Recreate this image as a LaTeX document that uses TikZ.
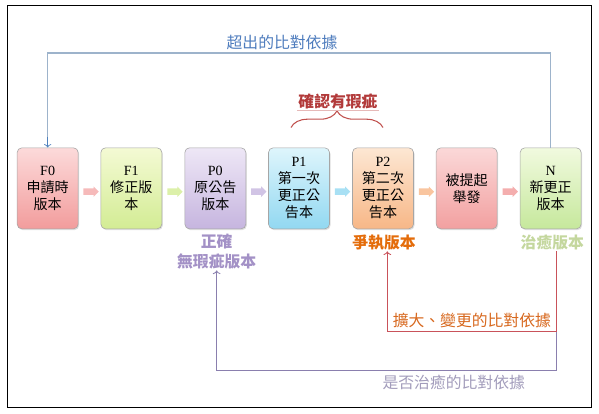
\documentclass[tikz,border=0pt]{standalone}
\usepackage{fontspec}
\setmainfont{Liberation Serif}
\newfontfamily\cjk{Noto Sans CJK TC}
\usetikzlibrary{positioning, shapes.arrows, arrows.meta, calc, decorations.pathreplacing, shadows}
\definecolor{boxline}{HTML}{A6A6A6}
\definecolor{fzerotop}{HTML}{FCDADA}
\definecolor{fzerobot}{HTML}{F29C9C}
\definecolor{fonetop}{HTML}{F4FAD4}
\definecolor{fonebot}{HTML}{D3EC94}
\definecolor{pzerotop}{HTML}{EEE7F6}
\definecolor{pzerobot}{HTML}{C6B5DF}
\definecolor{ponetop}{HTML}{DEF5FC}
\definecolor{ponebot}{HTML}{92D8F1}
\definecolor{ptwotop}{HTML}{FDE7D3}
\definecolor{ptwobot}{HTML}{F7B787}
\definecolor{reptop}{HTML}{FBD8D8}
\definecolor{repbot}{HTML}{F2A0A0}
\definecolor{newtop}{HTML}{F1FADF}
\definecolor{newbot}{HTML}{C6E89C}
\definecolor{topblue}{HTML}{9DB3CB}
\definecolor{txtblue}{HTML}{4E7CBD}
\definecolor{arrblue}{HTML}{4F81BD}
\definecolor{flawred}{HTML}{C0504D}
\definecolor{flawtxt}{HTML}{B23A3A}
\definecolor{redln}{HTML}{C9525A}
\definecolor{redtxt}{HTML}{D7681E}
\definecolor{disptxt}{HTML}{E46C0A}
\definecolor{purln}{HTML}{8A7FAE}
\definecolor{purtxt}{HTML}{A29CBB}
\definecolor{correcttxt}{HTML}{A391C6}
\definecolor{curetxt}{HTML}{C4D79E}

\begin{document}
\begin{tikzpicture}[
    verbox/.style={draw=boxline, line width=0.5pt, rounded corners=4pt,
      minimum width=1.83cm, minimum height=2.43cm, align=center, inner sep=1pt,
      font=\cjk\fontsize{12}{14.5}\selectfont,
      drop shadow={opacity=0.25, shadow xshift=0.03cm, shadow yshift=-0.04cm}},
    steparrow/.style={single arrow, minimum height=0.46cm, minimum width=0.3cm,
      single arrow head extend=0.06cm, inner sep=0.09cm, draw=none},
    lbl/.style={font=\cjk\bfseries\fontsize{13.5}{16}\selectfont, inner sep=1pt, align=center},
    note/.style={font=\cjk\fontsize{13.5}{16}\selectfont, inner sep=1pt}
  ]
  \useasboundingbox (0,0) rectangle (17.97,12.42);
  \draw[line width=0.7pt] (0.21,0.21) rectangle (17.73,12.27);

  % version boxes
  \node[verbox, top color=fzerotop, bottom color=fzerobot] (f0) at (1.43,6.77)
    {{\rmfamily F0}\\申請時\\版本};
  \node[verbox, top color=fonetop, bottom color=fonebot] (f1) at (3.94,6.77)
    {{\rmfamily F1}\\修正版\\本};
  \node[verbox, top color=pzerotop, bottom color=pzerobot] (p0) at (6.46,6.77)
    {{\rmfamily P0}\\原公告\\版本};
  \node[verbox, top color=ponetop, bottom color=ponebot] (p1) at (8.97,6.77)
    {{\rmfamily P1}\\第一次\\更正公\\告本};
  \node[verbox, top color=ptwotop, bottom color=ptwobot] (p2) at (11.49,6.77)
    {{\rmfamily P2}\\第二次\\更正公\\告本};
  \node[verbox, top color=reptop, bottom color=repbot] (rep) at (14.00,6.77)
    {被提起\\舉發};
  \node[verbox, top color=newtop, bottom color=newbot] (n) at (16.52,6.77)
    {{\rmfamily N}\\新更正\\版本};

  \foreach \s/\t/\c [count=\i] in {f0/f1/fzerobot!70, f1/p0/fonebot!80, p0/p1/pzerobot!80,
      p1/p2/ponebot!80, p2/rep/ptwobot!80, rep/n/repbot!85}
    \node[steparrow, fill=\c] (ar\i) at ($(\s.east)!0.5!(\t.west)+(0,-0.1)$) {};

  % labels under the boxes
  \node[lbl, text=correcttxt, below=0.1cm of p0, xshift=0.04cm, font=\cjk\bfseries\fontsize{13.5}{17}\selectfont] (correct) {正確\\無瑕疵版本};
  \node[lbl, text=disptxt, below=0.12cm of p2, xshift=0.03cm] (dispute) {爭執版本};
  \node[lbl, text=curetxt, below=0.12cm of n, xshift=0.05cm] (cure) {治癒版本};

  % brace over P1, P2
  \draw[flawred, line width=0.9pt, decorate, decoration={brace, amplitude=0.5cm}]
    ([xshift=-0.24cm, yshift=0.6cm]p1.north) -- ([yshift=0.6cm]p2.north);
  \node[lbl, text=flawtxt] (flaw) at ($(p1.north)!0.5!(p2.north)+(-0.09,1.38)$) {確認有瑕疵};
  \draw[flawred!40, line width=0.4pt] (flaw.south west) -- (flaw.south east);

  % top connector
  \coordinate (topline) at (8.46,10.83);
  \draw[topblue, line width=0.9pt] (n.north) |- (topline);
  \draw[topblue, line width=0.9pt] (topline) -| ([yshift=0.3cm]f0.north);
  \draw[arrblue, line width=0.6pt, ->] ([yshift=0.32cm]f0.north) -- (f0.north);
  \node[note, text=txtblue, anchor=south] (outside) at ([yshift=0.04cm]topline) {超出的比對依據};

  % bottom connectors
  \draw[purln, line width=0.7pt, ->] ([xshift=0.12cm]cure.south) -- ++(0,-3.57) coordinate (pc)
    -| (correct.south);
  \draw[redln, line width=0.7pt, ->] ([xshift=0.12cm]cure.south) -- ++(0,-2.4) coordinate (rc)
    -| ([xshift=0.1cm]dispute.south);
  \node[note, text=redtxt, anchor=south east] (widen) at ($(rc)+(-0.12,0.05)$) {擴大、變更的比對依據};
  \node[note, text=purtxt, anchor=north east] (curebasis) at ($(pc)+(-0.9,-0.1)$) {是否治癒的比對依據};
\end{tikzpicture}
\end{document}
